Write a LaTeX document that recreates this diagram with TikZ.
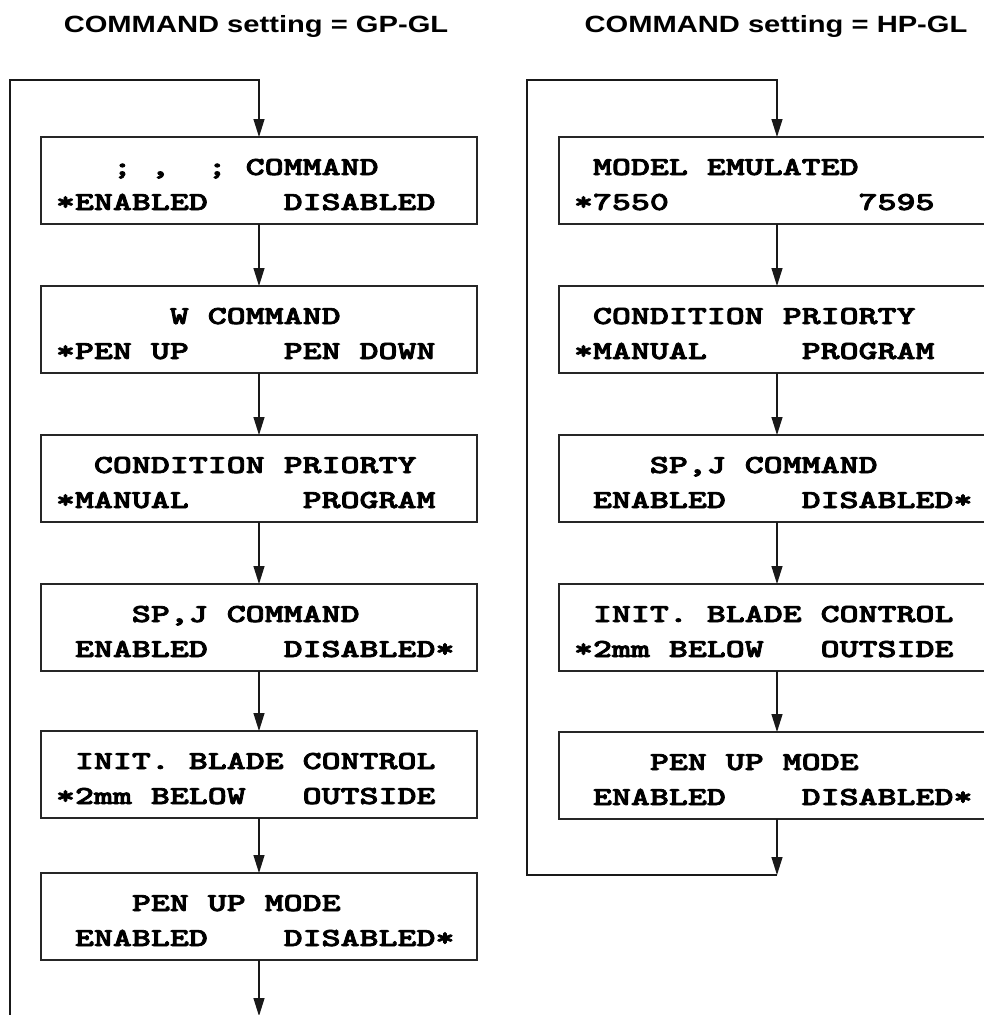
\documentclass[tikz,border=0pt]{standalone}
\usepackage{fontspec}
\usepackage{graphicx}
\usepackage{tikz}
\usetikzlibrary{arrows.meta,positioning,calc}
\newfontfamily\headfont{Liberation Sans}
\newfontfamily\lcdfont{lmmonolt10-bold.otf}[FakeBold=2.5]
\newcommand{\lcd}[2]{\makebox[406pt][l]{\scalebox{1.39}[1]{\begin{tabular}[b]{@{}l@{}}#1\\{}#2\end{tabular}}}}

\begin{document}
\begin{tikzpicture}[
    node distance=62pt,
    panel/.style={
      rectangle, draw=black!85, line width=2pt, outer sep=0pt,
      minimum width=436pt, minimum height=87pt,
      inner xsep=15pt, inner ysep=0pt,
      text height=73pt, text depth=14pt,
      font=\lcdfont\fontsize{26}{35}\selectfont\frenchspacing
    },
    flow/.style={
      -{Triangle[length=18pt,width=11pt]}, line width=1.3pt, black!90
    },
    coltitle/.style={
      anchor=base, inner sep=0pt,
      font=\headfont\bfseries\fontsize{23.5}{28}\selectfont
    }
  ]
  \useasboundingbox (0,0) rectangle (984pt,-1015pt);
  \clip (0,0) rectangle (984pt,-1015pt);

  % --- GP-GL (left column) ---
  \node[coltitle] (tGP) at (256pt,-32pt) {\scalebox{1.24}[1]{COMMAND setting = GP-GL}};
  \node[panel] (GP1) at (259pt,-180.5pt) {\lcd{~~~;~,~~;~COMMAND}{*ENABLED~~~~DISABLED}};
  \node[panel, below=of GP1] (GP2) {\lcd{~~~~~~W COMMAND}{*PEN UP~~~~~PEN DOWN}};
  \node[panel, below=of GP2] (GP3) {\lcd{~~CONDITION PRIORTY}{*MANUAL~~~~~~PROGRAM}};
  \node[panel, below=of GP3] (GP4) {\lcd{~~~~SP,J COMMAND}{~ENABLED~~~~DISABLED*}};
  \node[panel, below=60pt of GP4] (GP5) {\lcd{~INIT. BLADE CONTROL}{*2mm BELOW~~~OUTSIDE}};
  \node[panel, below=55pt of GP5] (GP6) {\lcd{~~~~PEN UP MODE}{~ENABLED~~~~DISABLED*}};

  \coordinate[below=56pt of GP6] (GPret);
  \coordinate (GPtop) at ([yshift=57pt]GP1.north);
  \coordinate (GPside) at ([xshift=-31pt]GP1.west);

  \draw[flow] (GP1) -- (GP2);
  \draw[flow] (GP2) -- (GP3);
  \draw[flow] (GP3) -- (GP4);
  \draw[flow] (GP4) -- (GP5);
  \draw[flow] (GP5) -- (GP6);
  \draw[flow] (GP6) -- (GPret);
  \draw[flow] (GPret) -| (GPside |- GPtop) -| (GP1);

  % --- HP-GL (right column) ---
  \node[coltitle] (tHP) at (776pt,-32pt) {\scalebox{1.24}[1]{COMMAND setting = HP-GL}};
  \node[panel] (HP1) at (777pt,-180.5pt) {\lcd{~MODEL EMULATED}{*7550~~~~~~~~~~7595}};
  \node[panel, below=of HP1] (HP2) {\lcd{~CONDITION PRIORTY}{*MANUAL~~~~~PROGRAM}};
  \node[panel, below=of HP2] (HP3) {\lcd{~~~~SP,J COMMAND}{~ENABLED~~~~DISABLED*}};
  \node[panel, below=of HP3] (HP4) {\lcd{~INIT. BLADE CONTROL}{*2mm BELOW~~~OUTSIDE}};
  \node[panel, below=61pt of HP4] (HP5) {\lcd{~~~~PEN UP MODE}{~ENABLED~~~~DISABLED*}};

  \coordinate[below=56pt of HP5] (HPret);
  \coordinate (HPtop) at ([yshift=57pt]HP1.north);
  \coordinate (HPside) at ([xshift=-32pt]HP1.west);

  \draw[flow] (HP1) -- (HP2);
  \draw[flow] (HP2) -- (HP3);
  \draw[flow] (HP3) -- (HP4);
  \draw[flow] (HP4) -- (HP5);
  \draw[flow] (HP5) -- (HPret);
  \draw[flow] (HPret) -| (HPside |- HPtop) -| (HP1);
\end{tikzpicture}
\end{document}
